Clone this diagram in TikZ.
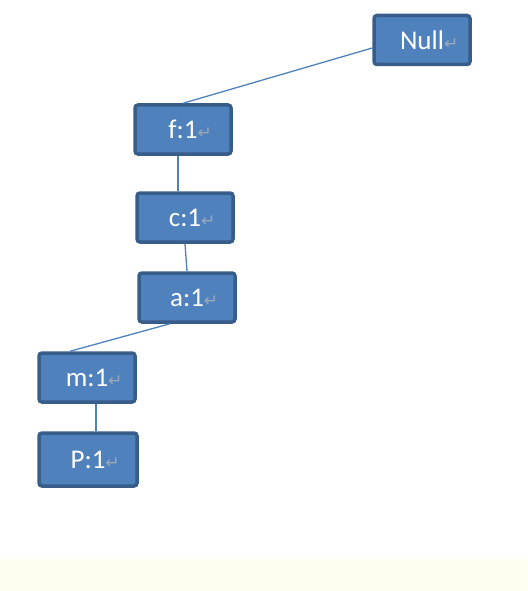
\documentclass[tikz,border=0pt]{standalone}
\usepackage{fontspec}
\newfontfamily\boxfont{Carlito}
\newfontfamily\symfont{DejaVu Sans}
\definecolor{boxfill}{HTML}{4F81BD}
\definecolor{boxborder}{HTML}{385D8A}
\definecolor{retgray}{HTML}{9AA8B8}
\definecolor{bandyellow}{HTML}{FDFDF0}
\newcommand{\retmark}{\rlap{\fontsize{17}{17}\selectfont\symfont\textcolor{retgray}{↵}}}
\tikzset{
    box/.style={draw=boxborder, fill=boxfill, line width=3.5pt, rounded corners=3pt,
        minimum width=96pt, minimum height=49pt, text=white,
        font=\boxfont\fontsize{27}{27}\selectfont},
    link/.style={draw=boxfill, line width=1.3pt}
}
\begin{document}
\begin{tikzpicture}[x=1pt, y=-1pt]
        \useasboundingbox (0,0) rectangle (527,591);
        \fill[bandyellow] (0,559) rectangle (527,591);

        % Nodes 
        \node(null) [box] at (422,40) {Null\retmark};
        \node(f1) [box] at (183,129.5) {f:1\retmark};
        \node(c1) [box] at (185,217.5) {c:1\retmark};
        \node(a1) [box] at (187,297.5) {a:1\retmark};
        \node(m1) [box] at (87,377.5) {m:1\retmark};
        \node(p1) [box, minimum width=98pt, minimum height=53pt] at (88,459.5) {P:1\retmark};
        
        % Edges
        \draw[link] ([yshift=-8pt]null.west) -- (f1.north);
        \draw[link] ([xshift=-5pt]f1.south) -- ([xshift=-7pt]c1.north);
        \draw[link] (c1.south) -- (a1.north);
        \draw[link] ([xshift=-17pt]a1.south) -- ([xshift=-17pt]m1.north);
        \draw[link] ([xshift=9pt]m1.south) -- ([xshift=8pt]p1.north);
    
    \end{tikzpicture}
\end{document}
